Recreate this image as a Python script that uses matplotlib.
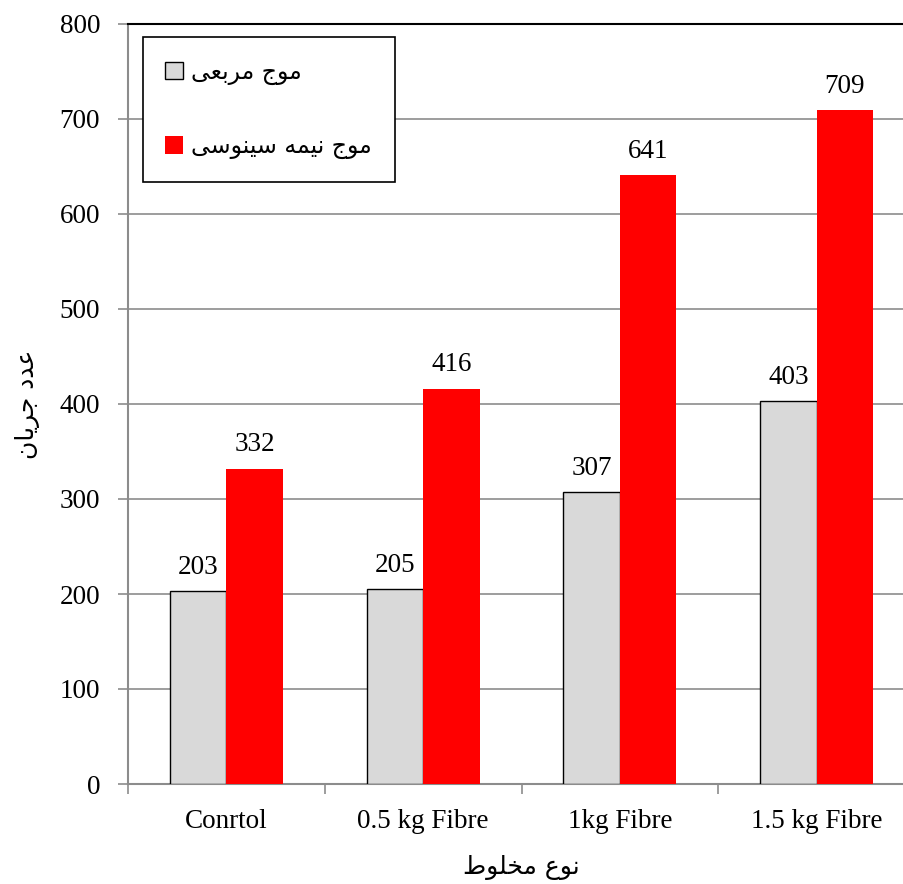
import numpy as np
import matplotlib
matplotlib.use("Agg")
import matplotlib.pyplot as plt
from matplotlib.patches import Patch

categories = ["Conrtol", "0.5 kg Fibre", "1kg Fibre", "1.5 kg Fibre"]
square_wave = [203, 205, 307, 403]
half_sine_wave = [332, 416, 641, 709]
series_names = ["موج مربعی", "موج نیمه سینوسی"]
y_label = "عدد جریان"
x_label = "نوع مخلوط"

# presentation forms: isolated, final, initial, medial (None -> right-joining only)
FORMS = {
    "ع": ("\uFEC9", "\uFECA", "\uFECB", "\uFECC"),
    "د": ("\uFEA9", "\uFEAA", None, None),
    "ج": ("\uFE9D", "\uFE9E", "\uFE9F", "\uFEA0"),
    "ر": ("\uFEAD", "\uFEAE", None, None),
    "ی": ("\uFBFC", "\uFBFD", "\uFBFE", "\uFBFF"),
    "ا": ("\uFE8D", "\uFE8E", None, None),
    "ن": ("\uFEE5", "\uFEE6", "\uFEE7", "\uFEE8"),
    "و": ("\uFEED", "\uFEEE", None, None),
    "م": ("\uFEE1", "\uFEE2", "\uFEE3", "\uFEE4"),
    "خ": ("\uFEA5", "\uFEA6", "\uFEA7", "\uFEA8"),
    "ل": ("\uFEDD", "\uFEDE", "\uFEDF", "\uFEE0"),
    "ط": ("\uFEC1", "\uFEC2", "\uFEC3", "\uFEC4"),
    "ب": ("\uFE8F", "\uFE90", "\uFE91", "\uFE92"),
    "ه": ("\uFEE9", "\uFEEA", "\uFEEB", "\uFEEC"),
    "س": ("\uFEB1", "\uFEB2", "\uFEB3", "\uFEB4"),
}


def shape(text):
    # join letters by hand and flip to visual order (no shaping engine here)
    out = []
    for i, ch in enumerate(text):
        if ch not in FORMS:
            out.append(ch)
            continue
        prev = text[i - 1] if i > 0 else ""
        nxt = text[i + 1] if i + 1 < len(text) else ""
        joins_prev = prev in FORMS and FORMS[prev][2] is not None
        joins_next = FORMS[ch][2] is not None and nxt in FORMS
        f = FORMS[ch]
        if joins_prev and joins_next:
            out.append(f[3])
        elif joins_prev:
            out.append(f[1])
        elif joins_next:
            out.append(f[2])
        else:
            out.append(f[0])
    return "".join(out)[::-1]


plt.rcParams["font.family"] = ["Liberation Serif", "DejaVu Sans"]
arabic_font = ["DejaVu Sans"]
fs = 19.5

fig = plt.figure(figsize=(9.04, 8.84), dpi=100)
ax = fig.add_axes([128 / 904, 100 / 884, 787 / 904, 760 / 884])

x = np.arange(len(categories))
w = 0.287
gray_bars = ax.bar(x - w / 2, square_wave, w, color="#d9d9d9",
                   edgecolor="black", linewidth=1.0, zorder=3)
red_bars = ax.bar(x + w / 2, half_sine_wave, w, color="#ff0000",
                  edgecolor="none", zorder=3)

for bars, vals in [(gray_bars, square_wave), (red_bars, half_sine_wave)]:
    for b, v in zip(bars, vals):
        ax.text(b.get_x() + b.get_width() / 2, v + 12, str(v),
                ha="center", va="bottom", fontsize=fs)

ax.set_xlim(-0.5, len(categories) - 0.5)
ax.set_ylim(0, 800)
ax.set_yticks(np.arange(0, 801, 100))
ax.yaxis.grid(True, color="#8c8c8c", linewidth=1.2, zorder=0)
ax.set_axisbelow(True)

ax.set_xticks(x)
ax.set_xticklabels(categories, fontsize=fs)
ax.set_xticks(np.arange(-0.5, len(categories)), minor=True)
ax.tick_params(axis="x", which="major", length=0, pad=18)
ax.tick_params(axis="x", which="minor", length=7, color="#8c8c8c", width=1.2)
ax.tick_params(axis="y", length=7, color="#8c8c8c", width=1.2,
               labelsize=fs, pad=13)

for side in ["left", "bottom"]:
    ax.spines[side].set_color("#8c8c8c")
    ax.spines[side].set_linewidth(1.5)
ax.spines["top"].set_color("black")
ax.spines["top"].set_linewidth(1.5)
ax.spines["right"].set_visible(False)

ax.set_ylabel(shape(y_label), fontsize=18, family=arabic_font, labelpad=14)
ax.set_xlabel(shape(x_label), fontsize=18, family=arabic_font, labelpad=15)

handles = [Patch(facecolor="#d9d9d9", edgecolor="black", linewidth=1.0),
           Patch(facecolor="#ff0000", edgecolor="none")]
leg = ax.legend(handles, [shape(s) for s in series_names],
                loc="upper left", bbox_to_anchor=(15 / 787, 1 - 13 / 760),
                fancybox=False, framealpha=1, edgecolor="black",
                prop={"family": arabic_font, "size": 17},
                handlelength=0.75, handleheight=0.75, labelspacing=2.1,
                borderpad=0.95, handletextpad=0.35, borderaxespad=0)
leg.get_frame().set_linewidth(1.2)

fig.savefig("out.png", dpi=100)
